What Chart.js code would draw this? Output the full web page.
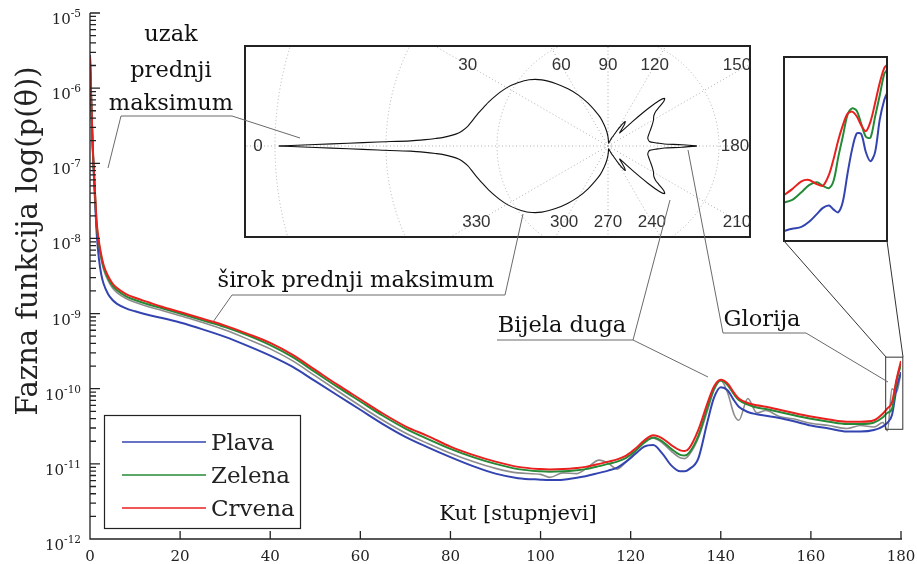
<!DOCTYPE html>
<html>
<head>
<meta charset="utf-8">
<script src="https://cdn.jsdelivr.net/npm/chart.js@4.4.1/dist/chart.umd.min.js"></script>
<style>
  html, body { margin: 0; padding: 0; background: #fff; }
  #wrap { position: relative; width: 917px; height: 564px; overflow: hidden; }
  #wrap canvas, #wrap svg { position: absolute; }
  #main { left: 0; top: 0; }
  #polar { left: 244px; top: 45px; }
  #zoom { left: 783px; top: 56px; }
  #notes { left: 0; top: 0; pointer-events: none; }
  #notes text { font-family: "DejaVu Serif", serif; font-size: 22.5px; fill: #111; }
  #notes .lead { fill: none; stroke: #6a6a6a; stroke-width: 1; }
  #notes .conn { fill: none; stroke: #333; stroke-width: 1; }
</style>
</head>
<body>
<div id="wrap">
  <canvas id="main" width="917" height="564"></canvas>
  <canvas id="polar" width="507" height="193"></canvas>
  <canvas id="zoom" width="105" height="186"></canvas>
  <svg id="notes" width="917" height="564">
    <polyline class="lead" points="108,168 121,116 232,116 300,138"/>
    <polyline class="lead" points="213,322 232,295 505,295 523,214"/>
    <polyline class="lead" points="497,340 633,340 708,377"/>
    <line class="lead" x1="670" y1="200" x2="633" y2="340"/>
    <polyline class="lead" points="688,150 723,333 806,333 888,382"/>
    <line class="conn" x1="784" y1="241" x2="886" y2="357"/>
    <line class="conn" x1="887" y1="241" x2="903" y2="357"/>
    <text x="171" y="41" text-anchor="middle">uzak</text>
    <text x="171" y="77" text-anchor="middle">prednji</text>
    <text x="171" y="110" text-anchor="middle">maksimum</text>
    <text x="356" y="287" text-anchor="middle">širok prednji maksimum</text>
    <text x="562" y="332" text-anchor="middle">Bijela duga</text>
    <text x="762" y="326" text-anchor="middle">Glorija</text>
    <text x="518" y="520" text-anchor="middle" style="font-size:21px">Kut [stupnjevi]</text>
  </svg>
</div>
<script>
// scattering angle in degrees, values are log10 of the phase function
const angles = [0, 0.3, 0.6, 1, 1.5, 2, 2.5, 3, 4, 5,
  6, 8, 10, 13, 16, 20, 25, 30, 35, 40,
  45, 50, 55, 60, 65, 70, 75, 80, 85, 90,
  95, 100, 102, 105, 108, 110, 113, 115, 117, 119,
  121, 123, 125, 127, 129, 131, 132, 133, 135, 137,
  138.5, 140, 141.5, 143, 144, 146, 148, 150, 153, 156,
  160, 164, 168, 171, 174, 176, 177, 178, 179, 180];

const plava = [-5.56, -6.22, -6.8, -7.35, -7.95, -8.28, -8.48, -8.6, -8.74, -8.82,
  -8.87, -8.93, -8.97, -9.02, -9.06, -9.12, -9.21, -9.31, -9.43, -9.56,
  -9.71, -9.9, -10.09, -10.28, -10.47, -10.64, -10.78, -10.91, -11.03, -11.13,
  -11.19, -11.21, -11.215, -11.21, -11.185, -11.165, -11.12, -11.09, -11.05, -10.97,
  -10.87, -10.77, -10.75, -10.86, -11.02, -11.1, -11.1, -11.07, -10.93, -10.45,
  -10.12, -9.98, -10.02, -10.16, -10.24, -10.31, -10.34, -10.36, -10.39, -10.43,
  -10.49, -10.53, -10.57, -10.57, -10.55, -10.5, -10.45, -10.35, -10.0, -9.78];

const zelena = [-5.58, -6.2, -6.77, -7.27, -7.83, -8.08, -8.25, -8.38, -8.53, -8.63,
  -8.69, -8.77, -8.82, -8.88, -8.93, -9.0, -9.09, -9.18, -9.29, -9.42,
  -9.58, -9.78, -9.98, -10.17, -10.36, -10.53, -10.67, -10.8, -10.91, -11.0,
  -11.07, -11.1, -11.105, -11.1, -11.085, -11.07, -11.03, -11.0, -10.97, -10.92,
  -10.83, -10.72, -10.65, -10.7, -10.8, -10.88, -10.89, -10.85, -10.63, -10.26,
  -10.0, -9.89, -9.95, -10.08, -10.15, -10.21, -10.25, -10.27, -10.31, -10.35,
  -10.4, -10.44, -10.47, -10.47, -10.45, -10.38, -10.32, -10.27, -9.9, -9.68];

const crvena = [-5.585, -6.2, -6.75, -7.25, -7.8, -8.05, -8.22, -8.35, -8.5, -8.6,
  -8.66, -8.74, -8.79, -8.85, -8.91, -8.98, -9.07, -9.16, -9.27, -9.39,
  -9.55, -9.75, -9.95, -10.14, -10.33, -10.5, -10.63, -10.77, -10.88, -10.97,
  -11.04, -11.07, -11.075, -11.07, -11.055, -11.04, -11.0, -10.97, -10.94, -10.89,
  -10.8, -10.69, -10.62, -10.66, -10.75, -10.82, -10.83, -10.79, -10.55, -10.2,
  -9.97, -9.88, -9.93, -10.06, -10.13, -10.19, -10.22, -10.24, -10.28, -10.32,
  -10.37, -10.41, -10.44, -10.44, -10.42, -10.33, -10.26, -10.18, -9.88, -9.63];

// grey curve without a legend entry
const siva = [-5.6, -6.25, -6.8, -7.3, -7.88, -8.12, -8.28, -8.41, -8.56, -8.66,
  -8.72, -8.8, -8.85, -8.91, -8.96, -9.03, -9.12, -9.22, -9.34, -9.47,
  -9.63, -9.83, -10.03, -10.23, -10.42, -10.59, -10.73, -10.86, -10.97, -11.06,
  -11.12, -11.14, -11.18, -11.12, -11.13, -11.07, -10.95, -10.99, -11.07, -10.97,
  -10.84, -10.71, -10.66, -10.72, -10.83, -10.92, -10.93, -10.88, -10.66, -10.3,
  -10.02, -9.89, -10.05, -10.35, -10.42, -10.13, -10.32, -10.29, -10.37, -10.4,
  -10.46, -10.49, -10.53, -10.49, -10.51, -10.45, -10.56, -10.0, -10.05, -9.78];

// detail of the glory region (right inset)
const zoomAngles = [176.6, 176.9, 177.2, 177.45, 177.7, 177.9, 178.1, 178.25, 178.4, 178.55,
  178.7, 178.85, 179.0, 179.15, 179.3, 179.45, 179.6, 179.75, 179.9, 180.0];
const zoomPlava = [-10.484, -10.472, -10.462, -10.436, -10.396, -10.364, -10.352, -10.373, -10.387, -10.331,
  -10.189, -10.062, -9.98, -9.983, -10.077, -10.123, -10.076, -9.91, -9.806, -9.768];
const zoomZelena = [-10.337, -10.323, -10.283, -10.246, -10.232, -10.25, -10.262, -10.223, -10.102, -9.994,
  -9.884, -9.85, -9.862, -9.931, -9.997, -10.001, -9.893, -9.784, -9.672, -9.65];
const zoomCrvena = [-10.302, -10.267, -10.227, -10.22, -10.241, -10.25, -10.192, -10.11, -10.015, -9.937,
  -9.879, -9.867, -9.891, -9.938, -9.968, -9.919, -9.823, -9.719, -9.641, -9.625];

const yMin = -12, yMax = -5;
const xTicks = [0, 20, 40, 60, 80, 100, 120, 140, 160, 180];
const polarAngles = [0, 30, 60, 90, 120, 150, 180, 210, 240, 270, 300, 330];
const zoomWin = { x0: 176.6, x1: 180.4, y0: -10.54, y1: -9.58 };

const colors = { plava: "#3344b0", zelena: "#258a36", crvena: "#e8211e", siva: "#8c8c8c" };
const serif = '"DejaVu Serif", serif';

const pts = (xs, ys) => xs.map((a, i) => ({ x: a, y: ys[i] }));

function line(label, ys, color, order, width) {
  return {
    label, data: pts(angles, ys), borderColor: color, backgroundColor: color,
    borderWidth: width, pointRadius: 0, cubicInterpolationMode: "monotone", order
  };
}

// axes, inward ticks, tick labels, legend and the zoom window
const frame = {
  id: "frame",
  afterDatasetsDraw(chart) {
    const { ctx, chartArea: a, scales: { x, y } } = chart;
    ctx.save();
    ctx.strokeStyle = "#222";
    ctx.lineWidth = 1.3;
    ctx.beginPath();
    ctx.moveTo(a.left, a.top); ctx.lineTo(a.left, a.bottom); ctx.lineTo(a.right + 1, a.bottom);
    for (let e = yMin; e <= yMax; e++) {
      const py = y.getPixelForValue(e);
      ctx.moveTo(a.left, py); ctx.lineTo(a.left + 10, py);
      if (e < yMax) for (let k = 2; k <= 9; k++) {
        const pm = y.getPixelForValue(e + Math.log10(k));
        ctx.moveTo(a.left, pm); ctx.lineTo(a.left + 6, pm);
      }
    }
    xTicks.slice(1).forEach(t => {
      const px = x.getPixelForValue(t);
      ctx.moveTo(px, a.bottom); ctx.lineTo(px, a.bottom - 8);
    });
    ctx.stroke();

    ctx.fillStyle = "#222";
    const right = 81;
    for (let e = yMin; e <= yMax; e++) {
      const py = y.getPixelForValue(e);
      const sup = String(e);
      ctx.font = "10.5px " + serif;
      const sw = ctx.measureText(sup).width;
      ctx.textAlign = "left";
      ctx.fillText(sup, right - sw, py + 4);
      ctx.font = "15px " + serif;
      ctx.textAlign = "right";
      ctx.fillText("10", right - sw, py + 11);
    }
    ctx.font = "15px " + serif;
    ctx.textAlign = "center";
    xTicks.forEach(t => ctx.fillText(String(t), x.getPixelForValue(t), 561));

    ctx.save();
    ctx.translate(29, 241);
    ctx.rotate(-Math.PI / 2);
    ctx.font = "29px " + serif;
    ctx.textBaseline = "middle";
    ctx.fillText("Fazna funkcija log(p(\u03b8))", 0, 0);
    ctx.restore();

    // zoom window marker
    ctx.lineWidth = 1;
    ctx.strokeStyle = "#333";
    const zx0 = x.getPixelForValue(zoomWin.x0), zx1 = x.getPixelForValue(zoomWin.x1);
    const zy0 = y.getPixelForValue(zoomWin.y1), zy1 = y.getPixelForValue(zoomWin.y0);
    ctx.strokeRect(zx0, zy0, zx1 - zx0, zy1 - zy0);

    // legend
    const items = chart.data.datasets.filter(d => d.label);
    ctx.lineWidth = 1.2;
    ctx.strokeStyle = "#222";
    ctx.fillStyle = "#fff";
    ctx.fillRect(104, 415, 196, 113);
    ctx.strokeRect(104.5, 415.5, 196, 113);
    ctx.font = "23px " + serif;
    ctx.textAlign = "left";
    items.forEach((d, i) => {
      const ly = 442 + i * 33;
      ctx.strokeStyle = d.borderColor;
      ctx.lineWidth = 1.6;
      ctx.beginPath(); ctx.moveTo(122, ly); ctx.lineTo(206, ly); ctx.stroke();
      ctx.fillStyle = "#222";
      ctx.fillText(d.label, 211, ly + 8);
    });
    ctx.restore();
  }
};

new Chart(document.getElementById("main"), {
  type: "line",
  data: {
    datasets: [
      line("Plava", plava, colors.plava, 3, 2),
      line("Zelena", zelena, colors.zelena, 2, 2),
      line("Crvena", crvena, colors.crvena, 1, 2),
      line("", siva, colors.siva, 4, 1.6)
    ]
  },
  options: {
    responsive: false, animation: false, devicePixelRatio: 1,
    layout: { padding: { top: 13, right: 16, left: 0, bottom: 0 } },
    plugins: { legend: { display: false }, tooltip: { enabled: false } },
    scales: {
      x: {
        type: "linear", min: 0, max: 180,
        ticks: { display: false }, grid: { display: false }, border: { display: false },
        afterFit: s => { s.height = 25; }
      },
      y: {
        type: "linear", min: yMin, max: yMax,
        ticks: { display: false }, grid: { display: false }, border: { display: false },
        afterFit: s => { s.width = 90; }
      }
    }
  },
  plugins: [frame]
});

// polar inset: radius proportional to log10 of the red curve
const polarGain = 59.4, polarFloor = -11.125;
function polarPts(sign) {
  return angles.map((a, i) => {
    const r = polarGain * (crvena[i] - polarFloor);
    const t = a * Math.PI / 180;
    return { x: -r * Math.cos(t), y: sign * r * Math.sin(t) };
  });
}

const polarGrid = {
  id: "polarGrid",
  beforeDatasetsDraw(chart) {
    const { ctx, scales: { x, y } } = chart;
    const cx = x.getPixelForValue(0), cy = y.getPixelForValue(0);
    const unit = x.getPixelForValue(1) - cx;
    ctx.save();
    ctx.strokeStyle = "#b0b0b0";
    ctx.lineWidth = 1;
    ctx.setLineDash([1, 2.5]);
    [3, 111, 222, 333].forEach(r => {
      ctx.beginPath(); ctx.arc(cx, cy, r * unit, 0, Math.PI * 2); ctx.stroke();
    });
    polarAngles.forEach(a => {
      const t = a * Math.PI / 180;
      ctx.beginPath();
      ctx.moveTo(cx, cy);
      ctx.lineTo(cx - 700 * Math.cos(t), cy - 700 * Math.sin(t));
      ctx.stroke();
    });
    ctx.setLineDash([]);
    ctx.fillStyle = "#333";
    ctx.font = '17px "Liberation Sans", Arial, sans-serif';
    ctx.textAlign = "center";
    ctx.textBaseline = "middle";
    polarAngles.forEach(a => {
      const t = a * Math.PI / 180;
      let lx, ly;
      if (a === 0) { lx = -350; ly = 0; }
      else if (a === 180) { lx = 127; ly = 0; }
      else {
        ly = a < 180 ? 81 : -76;
        lx = -Math.abs(ly) * Math.cos(t) / Math.abs(Math.sin(t));
        lx = Math.min(lx, 129);
      }
      ctx.fillText(String(a), x.getPixelForValue(lx), y.getPixelForValue(ly));
    });
    ctx.restore();
  },
  afterDraw(chart) {
    const { ctx, width, height } = chart;
    ctx.save();
    ctx.strokeStyle = "#222";
    ctx.lineWidth = 2;
    ctx.strokeRect(1, 1, width - 2, height - 2);
    ctx.restore();
  }
};

const polarLine = (data) => ({
  data, borderColor: "#111", borderWidth: 1.1, pointRadius: 0, showLine: true, tension: 0.25
});

new Chart(document.getElementById("polar"), {
  type: "scatter",
  data: { datasets: [polarLine(polarPts(1)), polarLine(polarPts(-1))] },
  options: {
    responsive: false, animation: false, devicePixelRatio: 1,
    layout: { padding: 0 },
    plugins: { legend: { display: false }, tooltip: { enabled: false } },
    scales: {
      x: { type: "linear", min: -364, max: 143, display: false },
      y: { type: "linear", min: -92, max: 101, display: false }
    }
  },
  plugins: [polarGrid]
});

// glory detail inset
const boxBorder = {
  id: "boxBorder",
  afterDraw(chart) {
    const { ctx, width, height } = chart;
    ctx.save();
    ctx.strokeStyle = "#222";
    ctx.lineWidth = 2;
    ctx.strokeRect(1, 1, width - 2, height - 2);
    ctx.restore();
  }
};

const zoomLine = (ys, color, order) => ({
  data: pts(zoomAngles, ys), borderColor: color, borderWidth: 2, pointRadius: 0,
  showLine: true, tension: 0.3, order
});

new Chart(document.getElementById("zoom"), {
  type: "scatter",
  data: {
    datasets: [
      zoomLine(zoomPlava, colors.plava, 3),
      zoomLine(zoomZelena, colors.zelena, 2),
      zoomLine(zoomCrvena, colors.crvena, 1)
    ]
  },
  options: {
    responsive: false, animation: false, devicePixelRatio: 1,
    layout: { padding: 0 },
    plugins: { legend: { display: false }, tooltip: { enabled: false } },
    scales: {
      x: { type: "linear", min: 176.6, max: 180.02, display: false },
      y: { type: "linear", min: zoomWin.y0, max: zoomWin.y1, display: false }
    }
  },
  plugins: [boxBorder]
});
</script>
</body>
</html>
